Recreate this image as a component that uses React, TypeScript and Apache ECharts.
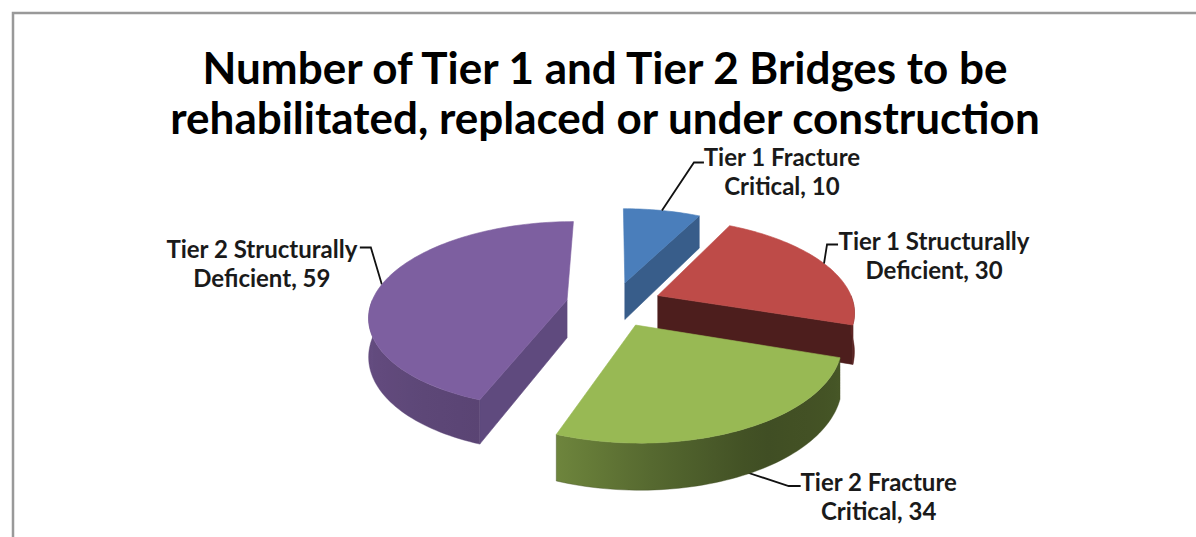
import React, { useEffect, useRef } from 'react';
import * as echarts from 'echarts';

// ---------- data ----------
const categories = [
  'Tier 1 Fracture Critical',
  'Tier 1 Structurally Deficient',
  'Tier 2 Fracture Critical',
  'Tier 2 Structurally Deficient',
];
const values = [10, 30, 34, 59];
const titleLines = [
  'Number of Tier 1 and Tier 2 Bridges to be',
  'rehabilitated, replaced or under construction',
];

// ---------- styles ----------
const topColors = ['#4a7ebb', '#be4b48', '#98b954', '#7d5fa0'];
const radialWallColors = ['#385d8a', '#4d1e1d', '#5f7e34', '#5f4a7e'];
const FONT = 'Lato, "Open Sans", sans-serif';

// projection parameters (pixel geometry of the tilted pie)
const CX = 614;
const CY = 304;
const RX = 196;
const RZ = 92;
const CAM = 6.33;
const THICK = 38;
const EXPLODE = 0.245;

// label leader layout relative to anchor: elbow, end, text centre (relative to end)
const labelLayout = [
  { elbow: [32, -48], end: [42, -48], text: [78, 8], onWall: false },
  { elbow: [3, -19], end: [14, -19], text: [96, 10], onWall: false },
  { elbow: [46, 15], end: [58, 15], text: [78, 10], onWall: true },
  { elbow: [-11, -37], end: [-22, -37], text: [-98, 16], onWall: false },
];

const wallShade: [number, number][] = [
  [90, 0.5], [120, 0.45], [150, 0.42], [175, 0.55], [200, 0.72], [240, 0.78], [270, 0.8],
];

function shadeFactor(deg: number) {
  for (let k = 0; k < wallShade.length - 1; k++) {
    const [a, fa] = wallShade[k];
    const [b, fb] = wallShade[k + 1];
    if (deg >= a && deg <= b) return fa + ((deg - a) / (b - a)) * (fb - fa);
  }
  return deg < 90 ? 0.5 : 0.8;
}

function shade(hex: string, f: number) {
  const n = parseInt(hex.slice(1), 16);
  const r = Math.round(((n >> 16) & 255) * f);
  const g = Math.round(((n >> 8) & 255) * f);
  const b = Math.round((n & 255) * f);
  return `rgb(${r},${g},${b})`;
}

function project(X: number, Z: number, h: number): [number, number] {
  const f = CAM / (CAM - Z);
  return [CX + RX * X * f, CY + RZ * Z * f + h * f];
}

const rad = (d: number) => (d * Math.PI) / 180;

function sliceAngles() {
  const total = values.reduce((s, v) => s + v, 0);
  let acc = 0;
  return values.map((v) => {
    const a1 = (acc / total) * 360;
    acc += v;
    const a2 = (acc / total) * 360;
    return [a1, a2];
  });
}

function labelText(i: number) {
  const name = categories[i];
  const cut = name.lastIndexOf(' ');
  return name.slice(0, cut) + '\n' + name.slice(cut + 1) + ', ' + values[i];
}

function buildSlice(i: number, a1: number, a2: number) {
  const mid = (a1 + a2) / 2;
  const tx = EXPLODE * Math.sin(rad(mid));
  const tz = -EXPLODE * Math.cos(rad(mid));
  const rim = (deg: number, h: number) =>
    project(tx + Math.sin(rad(deg)), tz - Math.cos(rad(deg)), h);
  const arc = (from: number, to: number, h: number) => {
    const pts: [number, number][] = [];
    const n = Math.max(2, Math.ceil(Math.abs(to - from) / 1.5));
    for (let k = 0; k <= n; k++) pts.push(rim(from + ((to - from) * k) / n, h));
    return pts;
  };
  const tipTop = project(tx, tz, 0);
  const tipBot = project(tx, tz, THICK);
  const children: any[] = [];
  const depthZ = tz;

  // radial walls
  const radial = (deg: number) => {
    const p = [tipTop, rim(deg, 0), rim(deg, THICK), tipBot];
    children.push({
      type: 'polygon',
      shape: { points: p },
      style: { fill: radialWallColors[i], stroke: radialWallColors[i], lineWidth: 0.6 },
    });
  };
  if (Math.sin(rad(a1)) < -1e-6) radial(a1);
  if (Math.sin(rad(a2)) > 1e-6) radial(a2);

  // outer wall (front half)
  const w1 = Math.max(a1, 90);
  const w2 = Math.min(a2, 270);
  if (w2 > w1) {
    const topArc = arc(w1, w2, 0);
    const botArc = arc(w2, w1, THICK);
    const xs = topArc.map((p) => p[0]);
    const xMin = Math.min(...xs);
    const xMax = Math.max(...xs);
    const stops: { offset: number; color: string }[] = [];
    const n = 12;
    for (let k = 0; k <= n; k++) {
      const d = w1 + ((w2 - w1) * k) / n;
      const x = rim(d, 0)[0];
      stops.push({
        offset: Math.min(1, Math.max(0, (x - xMin) / (xMax - xMin || 1))),
        color: shade(topColors[i], shadeFactor(d)),
      });
    }
    stops.sort((a, b) => a.offset - b.offset);
    const fill = {
      type: 'linear',
      x: xMin,
      y: 0,
      x2: xMax,
      y2: 0,
      global: true,
      colorStops: stops,
    };
    children.push({
      type: 'polygon',
      shape: { points: topArc.concat(botArc) },
      style: { fill, stroke: stops[Math.floor(stops.length / 2)].color, lineWidth: 0.4 },
    });
  }

  // top face
  children.push({
    type: 'polygon',
    shape: { points: [tipTop, ...arc(a1, a2, 0)] },
    style: { fill: topColors[i], stroke: topColors[i], lineWidth: 0.6 },
  });

  // label
  const lay = labelLayout[i];
  const anchor = lay.onWall ? rim(mid, THICK * 0.9) : rim(mid, 0);
  const elbow = [anchor[0] + lay.elbow[0], anchor[1] + lay.elbow[1]];
  const end = [anchor[0] + lay.end[0], anchor[1] + lay.end[1]];
  const label = [
    {
      type: 'polyline',
      z2: 100,
      shape: { points: [anchor, elbow, end] },
      style: { stroke: '#111', lineWidth: 1.8, fill: null },
    },
    {
      type: 'text',
      z2: 101,
      x: end[0] + lay.text[0],
      y: end[1] + lay.text[1],
      style: {
        text: labelText(i),
        fill: '#1a1a1a',
        font: `bold 24px ${FONT}`,
        align: 'center',
        verticalAlign: 'middle',
        textAlign: 'center',
        textVerticalAlign: 'middle',
        lineHeight: 29,
      },
    },
  ];
  return { depthZ, children, label };
}

export default function App() {
  const ref = useRef<HTMLDivElement>(null);

  useEffect(() => {
    if (!ref.current) return;
    const chart = echarts.init(ref.current, undefined, { renderer: 'svg' });
    const angles = sliceAngles();

    const option: any = {
      animation: false,
      backgroundColor: '#ffffff',
      graphic: [
        {
          type: 'polyline',
          shape: { points: [[13, 537], [13, 13], [1196, 13]] },
          style: { stroke: '#999999', lineWidth: 2.5, fill: null },
        },
        {
          type: 'text',
          x: 605,
          y: 92,
          style: {
            text: titleLines.join('\n'),
            fill: '#000000',
            font: `bold 44px ${FONT}`,
            align: 'center',
            verticalAlign: 'middle',
            textAlign: 'center',
            textVerticalAlign: 'middle',
            lineHeight: 50,
          },
        },
      ],
      series: [
        {
          type: 'custom',
          coordinateSystem: 'none',
          data: values.map((v, i) => ({ name: categories[i], value: [i, v] })),
          renderItem: (params: any) => {
            const i = params.dataIndex;
            const [a1, a2] = angles[i];
            const s = buildSlice(i, a1, a2);
            const base = Math.round((s.depthZ + 1) * 10);
            return {
              type: 'group',
              children: [
                ...s.children.map((c: any, k: number) => ({ ...c, z2: base * 10 + k })),
                ...s.label,
              ],
            };
          },
        },
      ],
    };
    chart.setOption(option);
    return () => chart.dispose();
  }, []);

  return (
    <div
      ref={ref}
      style={{ position: 'absolute', left: 0, top: 0, width: 1196, height: 537 }}
    />
  );
}
